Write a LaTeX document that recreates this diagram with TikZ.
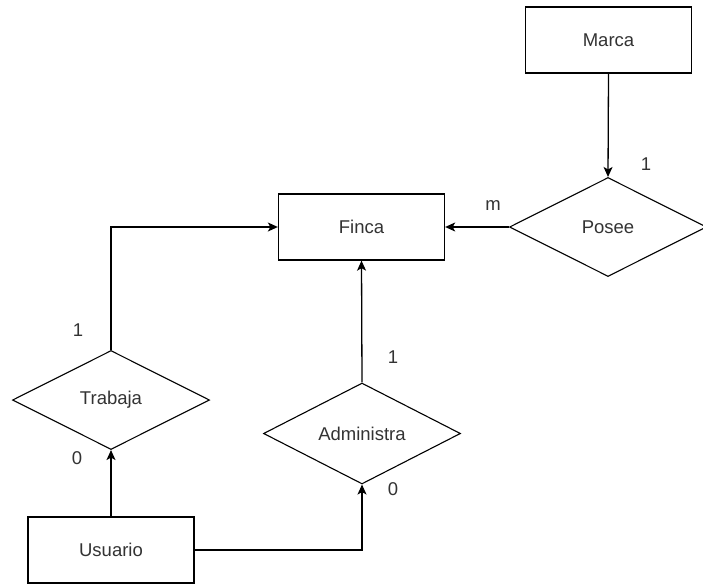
\documentclass[tikz,border=0pt]{standalone}
\usepackage{fontspec}
\setmainfont{Liberation Sans}
\usetikzlibrary{shapes.geometric,arrows.meta}
\definecolor{txt}{HTML}{333333}
\begin{document}
\begin{tikzpicture}[x=1pt,y=-1pt,
  every node/.style={font=\fontsize{18.5}{21}\selectfont, text=txt},
  entity/.style={draw=black, line width=1.3pt, rectangle, minimum width=166pt, minimum height=66pt, inner sep=0pt, fill=white},
  rel/.style={draw=black, line width=1.1pt, diamond, minimum width=197pt, minimum height=99pt, inner sep=0pt, fill=white},
  conn/.style={line width=1.3pt, draw=black, -{Stealth[length=10pt,width=9pt,inset=2.5pt]}},
  card/.style={inner sep=0pt}
]
\useasboundingbox (0,0) rectangle (703,586);
\fill[white] (0,0) rectangle (703,586);
\node[entity] (marca) at (608.5,40) {Marca};
\node[entity] (finca) at (361.5,227) {Finca};
\node[entity] (usuario) at (111,550) {Usuario};
\node[rel] (posee) at (608,227) {Posee};
\node[rel] (trabaja) at (111,400) {Trabaja};
\node[rel] (admin) at (362,433.5) {Administra};

\draw[conn] (marca.south) -- (posee.north);
\draw[conn] (posee.west) -- (finca.east);
\draw[conn] (trabaja.north) |- (finca.west);
\draw[conn] (admin.north) -- (finca.south);
\draw[conn] (usuario.north) -- (trabaja.south);
\draw[conn] (usuario.east) -| (admin.south);

\node[card] (c1) at (493,206) {m};
\node[card] (c2) at (646,164) {1};
\node[card] (c3) at (78,330) {1};
\node[card] (c4) at (77,458) {0};
\node[card] (c5) at (393,357) {1};
\node[card] (c6) at (393,489) {0};
\end{tikzpicture}
\end{document}
